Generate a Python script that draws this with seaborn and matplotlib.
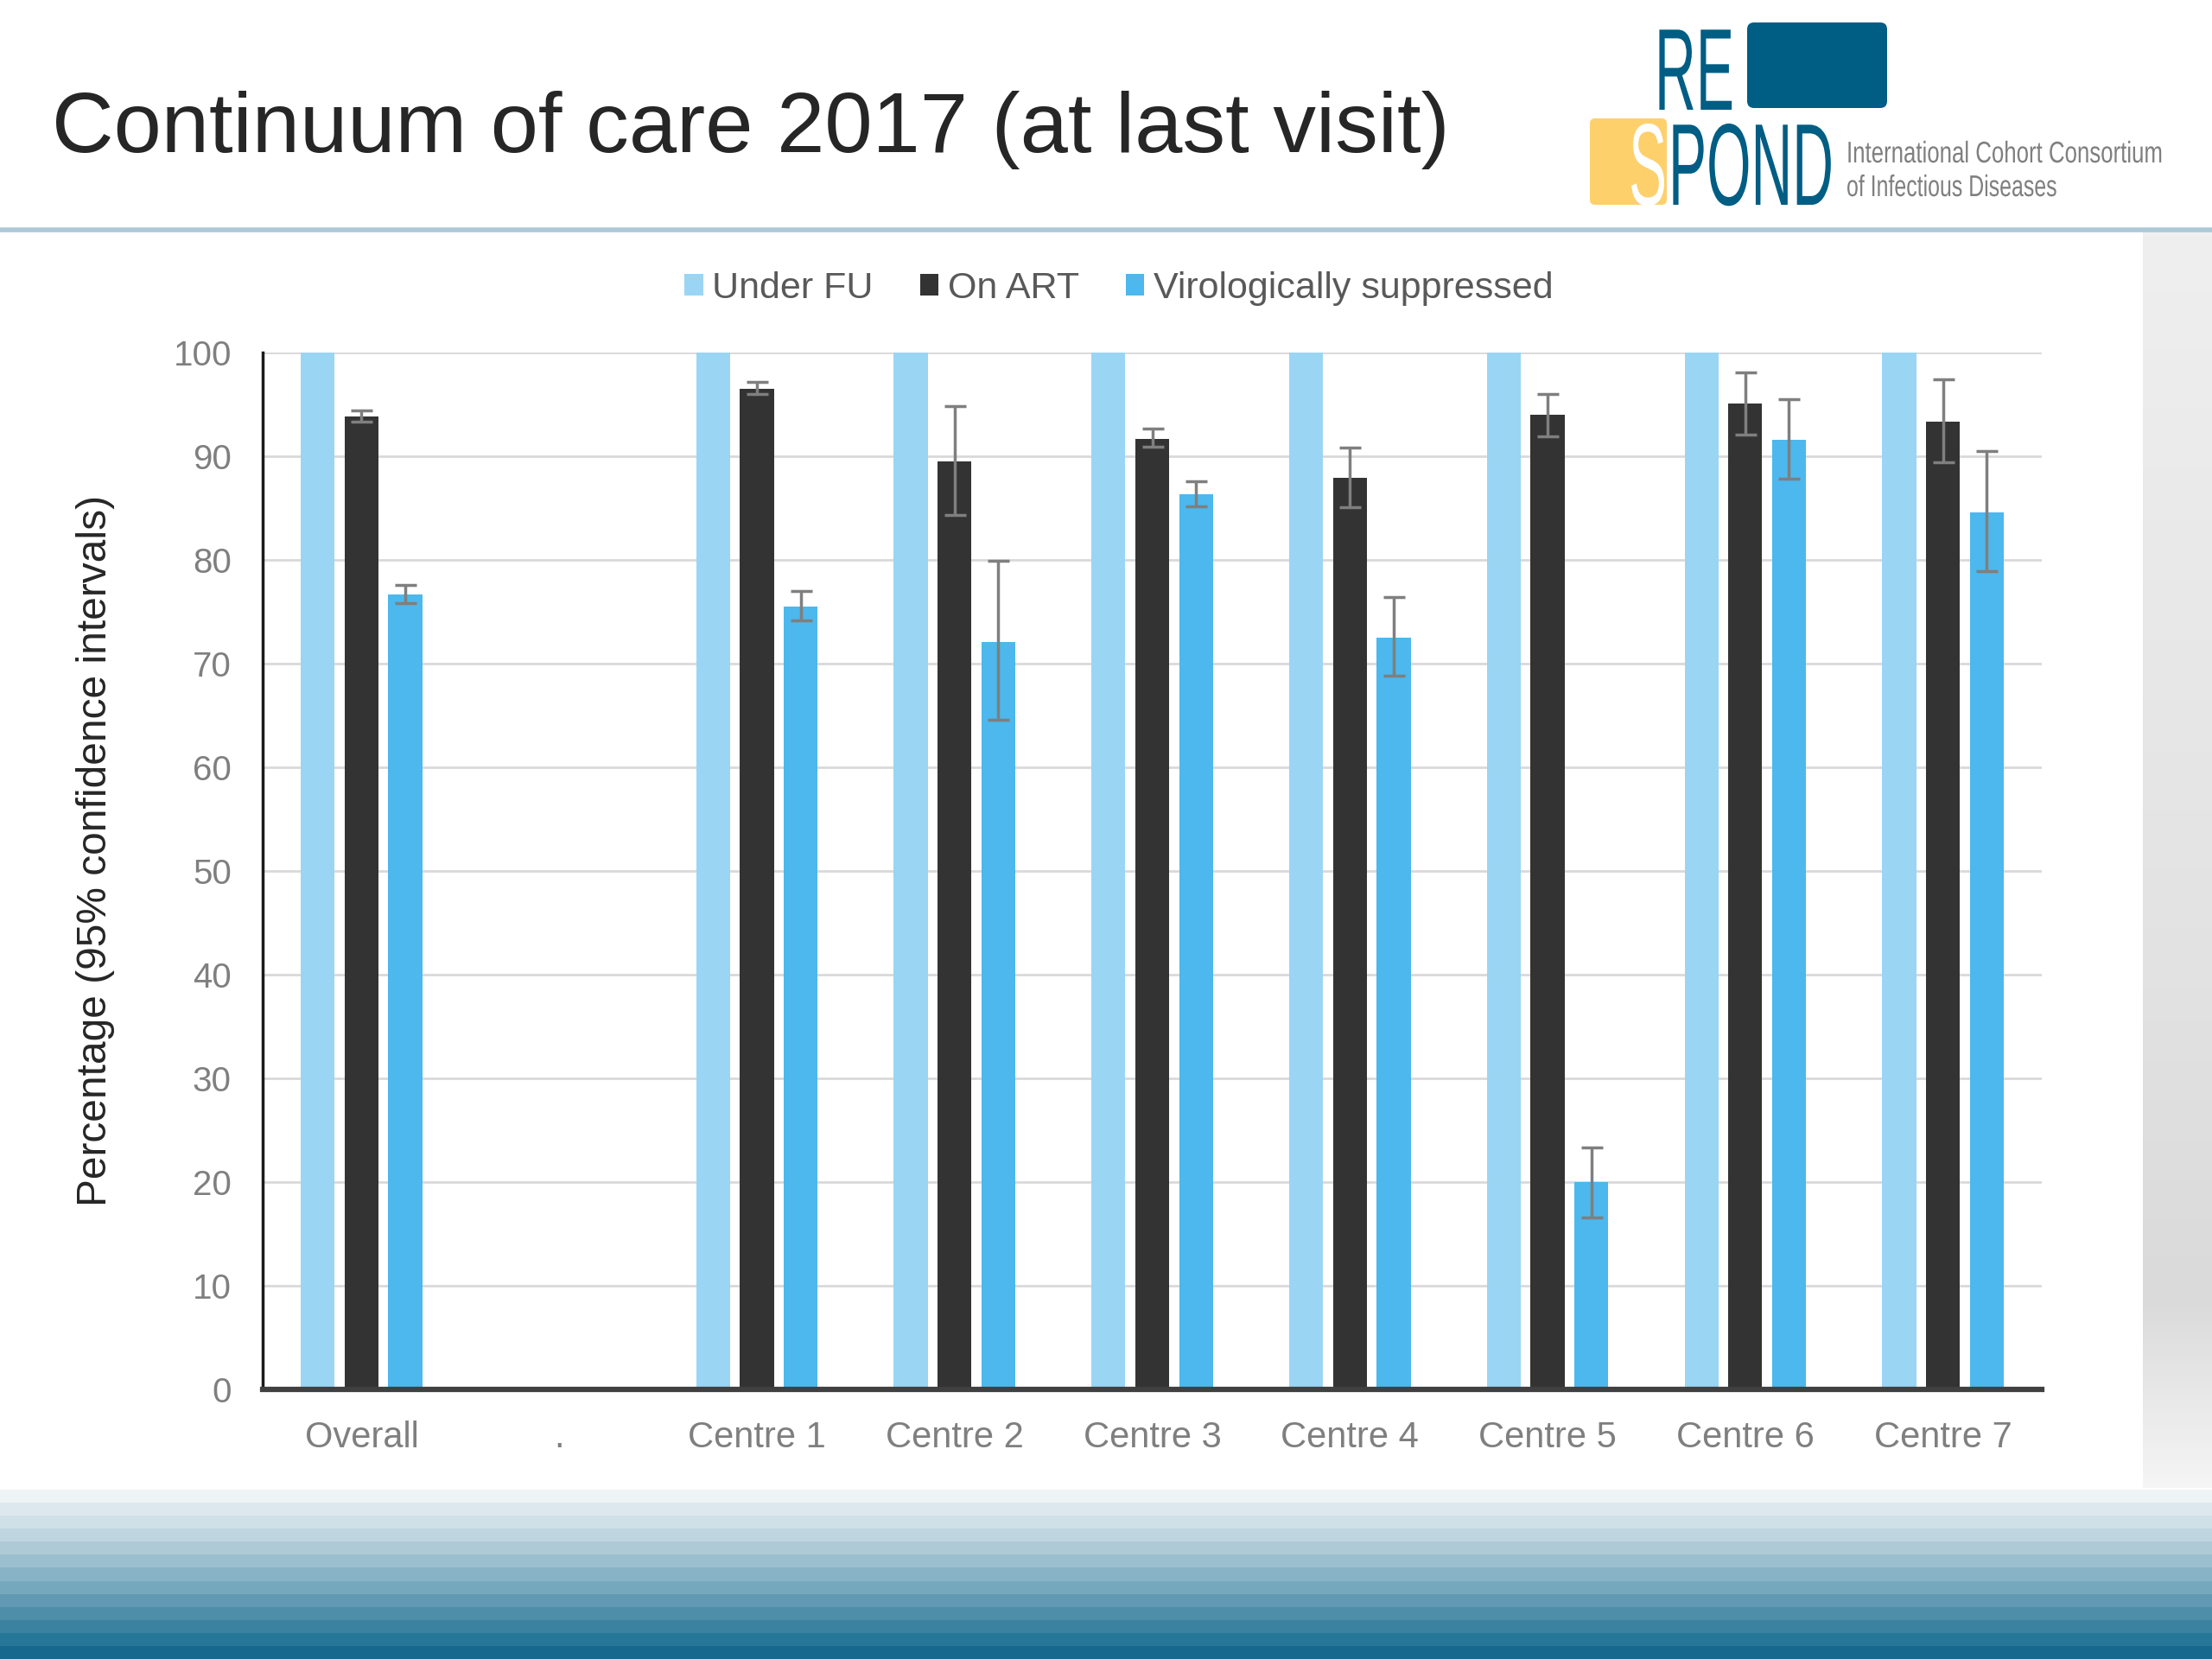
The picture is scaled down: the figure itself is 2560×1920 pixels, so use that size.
import numpy as np
import pandas as pd
import matplotlib
matplotlib.use("Agg")
import matplotlib.pyplot as plt
from matplotlib.patches import FancyBboxPatch
from matplotlib.colors import LinearSegmentedColormap, ListedColormap
from matplotlib.patheffects import AbstractPathEffect
from matplotlib.transforms import Affine2D, Bbox
import seaborn as sns

# ---------------- data ----------------
categories = ["Overall", ".", "Centre 1", "Centre 2", "Centre 3",
              "Centre 4", "Centre 5", "Centre 6", "Centre 7"]
series_names = ["Under FU", "On ART", "Virologically suppressed"]

under_fu = [100, np.nan, 100, 100, 100, 100, 100, 100, 100]
on_art = [93.8, np.nan, 96.5, 89.5, 91.7, 87.9, 94.0, 95.1, 93.3]
on_art_lo = [93.3, np.nan, 96.0, 84.3, 90.9, 85.1, 91.9, 92.1, 89.4]
on_art_hi = [94.4, np.nan, 97.2, 94.8, 92.7, 90.8, 96.0, 98.1, 97.4]
vir_sup = [76.7, np.nan, 75.5, 72.1, 86.3, 72.5, 20.0, 91.6, 84.6]
vir_sup_lo = [75.8, np.nan, 74.2, 64.6, 85.2, 68.8, 16.6, 87.8, 78.9]
vir_sup_hi = [77.6, np.nan, 77.0, 79.9, 87.6, 76.4, 23.3, 95.5, 90.5]

yticks = list(range(0, 101, 10))

title = "Continuum of care 2017 (at last visit)"
ylabel = "Percentage (95% confidence intervals)"

# ---------------- table ----------------
rows = []
for s, vals in zip(series_names, [under_fu, on_art, vir_sup]):
    for c, v in zip(categories, vals):
        if not np.isnan(v):
            rows.append({"category": c, "series": s, "value": v})
df = pd.DataFrame(rows)

colors = {"Under FU": "#9ad5f4", "On ART": "#333333",
          "Virologically suppressed": "#4cb8ed"}

sns.set_theme(style="white")
plt.rcParams["font.family"] = ["Liberation Sans", "DejaVu Sans"]

W, H = 2560, 1920
fig = plt.figure(figsize=(25.6, 19.2), dpi=100)
fig.patch.set_facecolor("white")


class Squeeze(AbstractPathEffect):
    """Horizontally condense a text around a fixed display x."""
    def __init__(self, sx, x0):
        super().__init__()
        self.sx = sx
        self.x0 = x0

    def draw_path(self, renderer, gc, tpath, affine, rgbFace=None):
        aff = affine + Affine2D().translate(-self.x0, 0).scale(self.sx, 1).translate(self.x0, 0)
        renderer.draw_path(gc, tpath, aff, rgbFace)


# ---------------- background decoration ----------------
bg = fig.add_axes([0, 0, 1, 1], zorder=0)
bg.set_xlim(0, W)
bg.set_ylim(H, 0)
bg.axis("off")

# right grey strip (vertical gradient)
vgrad = np.linspace(0, 1, 256).reshape(-1, 1)
grey_cmap = LinearSegmentedColormap.from_list(
    "g", [(0, "#efefef"), (0.6, "#e2e2e2"), (0.85, "#dadada"), (1.0, "#f5f5f5")])
bg.imshow(vgrad, cmap=grey_cmap, extent=[2480, W, 1722, 268], aspect="auto", zorder=0)

# bottom stripe band
band_colors = ["#eef4f5", "#dde8ee", "#cfe0e7", "#bfd5df", "#aecad6", "#9cbfcf",
               "#88b3c6", "#76a8bd", "#6299b2", "#4f8ea9", "#3a82a0", "#267697", "#17688e"]
band = np.arange(len(band_colors)).reshape(-1, 1)
bg.imshow(band, cmap=ListedColormap(band_colors), extent=[0, W, 1920, 1724],
          aspect="auto", interpolation="nearest", zorder=0)

# header separator
bg.plot([0, W], [266, 266], color="#adc9d6", lw=4, solid_capstyle="butt")

# title
bg.text(60, 150, title, fontsize=71.5, color="#262626", va="center", ha="left")

# logo
logo_blue = "#005d84"
bg.add_patch(FancyBboxPatch((2022, 26), 162, 99, boxstyle="round,pad=0,rounding_size=8",
                            facecolor=logo_blue, edgecolor="none"))
bg.add_patch(FancyBboxPatch((1840, 137), 89, 100, boxstyle="round,pad=0,rounding_size=6",
                            facecolor="#fdd06c", edgecolor="none"))

renderer = fig.canvas.get_renderer()


def squeezed_text(x, y, s, target_w, **kw):
    t = bg.text(x, y, s, ha="left", va="baseline", **kw)
    orig_extent = t.get_window_extent
    full = orig_extent(renderer)
    sx = target_w / full.width
    x0 = bg.transData.transform((x, y))[0]
    t.set_path_effects([Squeeze(sx, x0)])

    def squeezed_extent(renderer=None, dpi=None, _f=orig_extent, _sx=sx, _x0=x0):
        bb = _f(renderer, dpi) if dpi is not None else _f(renderer)
        return Bbox([[_x0 + (bb.x0 - _x0) * _sx, bb.y0],
                     [_x0 + (bb.x1 - _x0) * _sx, bb.y1]])

    t.get_window_extent = squeezed_extent
    return t


squeezed_text(1915, 127, "RE", 92, fontsize=97, color=logo_blue)
squeezed_text(1885, 237, "S", 44, fontsize=97, color="white")
squeezed_text(1931, 237, "POND", 191, fontsize=97, color=logo_blue)
squeezed_text(2137, 188, "International Cohort Consortium", 366, fontsize=25, color="#7f7f7f")
squeezed_text(2137, 227, "of Infectious Diseases", 244, fontsize=25, color="#7f7f7f")

# ---------------- chart ----------------
ax = fig.add_axes([304 / W, 1 - 1608 / H, (2363 - 304) / W, 1200 / H], zorder=2)
ax.set_facecolor("none")

sns.barplot(data=df, x="category", y="value", hue="series", order=categories,
            hue_order=series_names, palette=colors, saturation=1, errorbar=None,
            width=0.664, gap=0.225, linewidth=0, edgecolor="none", ax=ax, zorder=2)

# error bars positioned on the drawn bars
err_series = [(on_art, on_art_lo, on_art_hi), (vir_sup, vir_sup_lo, vir_sup_hi)]
for p in ax.patches:
    h = p.get_height()
    if not np.isfinite(h):
        continue
    cx = p.get_x() + p.get_width() / 2
    ci = int(round(cx))
    if ci < 0 or ci >= len(categories):
        continue
    for vals, lo, hi in err_series:
        if np.isfinite(vals[ci]) and np.isclose(vals[ci], h):
            ax.errorbar(cx, h, yerr=[[h - lo[ci]], [hi[ci] - h]], fmt="none",
                        ecolor="#7f7f7f", elinewidth=2.5, capsize=9, capthick=2.5,
                        zorder=4)
            break

ax.set_ylim(0, 100)
ax.set_xlim(-0.5, len(categories) - 0.5)
ax.set_yticks(yticks)
ax.set_yticklabels([str(t) for t in yticks])
ax.yaxis.grid(True, color="#d9d9d9", lw=2)
ax.set_axisbelow(True)
for s in ["top", "right"]:
    ax.spines[s].set_visible(False)
ax.spines["left"].set_color("#1a1a1a")
ax.spines["left"].set_linewidth(2.5)
ax.spines["bottom"].set_color("#404040")
ax.spines["bottom"].set_linewidth(4.5)
ax.tick_params(axis="both", length=0)
ax.tick_params(axis="y", labelsize=29, labelcolor="#7f7f7f", pad=26)
ax.tick_params(axis="x", labelsize=30, labelcolor="#7f7f7f", pad=26)
ax.set_xlabel("")
ax.set_ylabel(ylabel, fontsize=34.5, color="#262626")
ax.yaxis.set_label_coords(-0.083, 0.52)

handles, labels = ax.get_legend_handles_labels()
if ax.get_legend() is not None:
    ax.get_legend().remove()
fig.legend(handles, labels, loc="center", bbox_to_anchor=(1295 / W, 1 - 334 / H),
           ncol=3, frameon=False, fontsize=31, labelcolor="#595959",
           handlelength=0.5, handleheight=0.5, handletextpad=0.25, columnspacing=1.25)

fig.savefig("out.png", dpi=100, facecolor="white")
